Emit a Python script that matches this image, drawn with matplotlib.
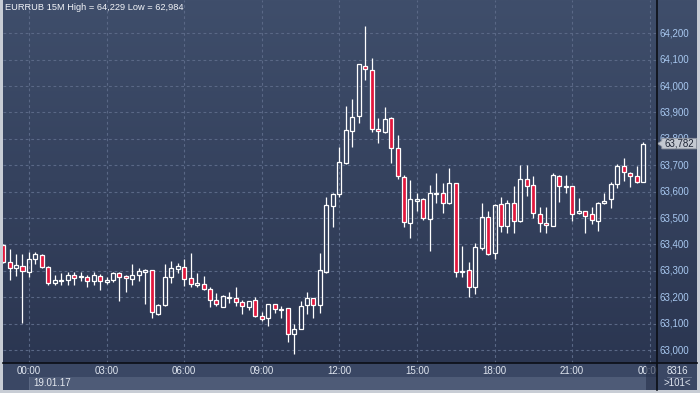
import matplotlib
matplotlib.use("Agg")
import matplotlib.pyplot as plt
import numpy as np
from matplotlib.colors import LinearSegmentedColormap
from matplotlib.patches import Rectangle, Polygon
from matplotlib.lines import Line2D

plt.rcParams['font.family'] = ['Liberation Sans', 'DejaVu Sans']

# EURRUB 15M candles, 18.01 23:00 .. 19.01 23:45
opens = [63398, 63334, 63311, 63320, 63296, 63345, 63359, 63315, 63254, 63263,
         63265, 63284, 63277, 63277, 63262, 63282, 63259, 63265, 63290, 63282,
         63269, 63284, 63296, 63303, 63138, 63170, 63277, 63306, 63315, 63273,
         63246, 63249, 63230, 63190, 63164, 63198, 63196, 63183, 63164, 63190,
         63129, 63120, 63174, 63150, 63158, 63060, 63078, 63169, 63196, 63169,
         63297, 63547, 63590, 63710, 63831, 63888, 64077, 64060, 63837, 63827,
         63878, 63764, 63654, 63480, 63566, 63571, 63498, 63591, 63594, 63556,
         63632, 63297, 63303, 63240, 63385, 63503, 63366, 63553, 63471, 63556,
         63489, 63647, 63625, 63514, 63480, 63471, 63659, 63619, 63621, 63518,
         63527, 63515, 63490, 63556, 63571, 63628, 63697, 63670, 63659, 63638]
highs = [63402, 63383, 63362, 63362, 63372, 63372, 63364, 63320, 63286, 63292,
         63297, 63294, 63294, 63286, 63294, 63288, 63277, 63297, 63297, 63284,
         63324, 63312, 63306, 63303, 63175, 63324, 63339, 63330, 63345, 63367,
         63292, 63280, 63238, 63217, 63208, 63221, 63240, 63190, 63186, 63202,
         63143, 63174, 63174, 63167, 63158, 63099, 63187, 63220, 63196, 63369,
         63581, 63594, 63770, 63925, 63951, 64083, 64229, 64105, 63878, 63920,
         63882, 63815, 63663, 63644, 63596, 63575, 63625, 63670, 63632, 63688,
         63632, 63394, 63335, 63404, 63558, 63528, 63553, 63579, 63568, 63621,
         63701, 63701, 63659, 63541, 63541, 63670, 63663, 63663, 63621, 63575,
         63527, 63543, 63562, 63596, 63635, 63705, 63729, 63676, 63698, 63787]
lows = [63330, 63264, 63279, 63104, 63277, 63326, 63311, 63245, 63246, 63246,
        63246, 63246, 63263, 63237, 63245, 63227, 63250, 63259, 63185, 63218,
        63246, 63263, 63173, 63122, 63131, 63166, 63254, 63292, 63241, 63239,
        63239, 63227, 63162, 63167, 63162, 63179, 63167, 63135, 63152, 63124,
        63111, 63092, 63139, 63120, 63029, 62984, 63078, 63135, 63120, 63139,
        63291, 63467, 63579, 63705, 63770, 63861, 64023, 63827, 63783, 63821,
        63710, 63647, 63467, 63423, 63528, 63493, 63376, 63558, 63518, 63553,
        63278, 63278, 63202, 63212, 63379, 63360, 63345, 63448, 63445, 63445,
        63486, 63584, 63501, 63448, 63445, 63471, 63562, 63594, 63490, 63515,
        63445, 63477, 63452, 63552, 63539, 63613, 63641, 63619, 63634, 63638]
closes = [63332, 63311, 63322, 63298, 63345, 63362, 63315, 63254, 63265, 63265,
          63283, 63272, 63281, 63263, 63286, 63262, 63267, 63290, 63278, 63274,
          63286, 63301, 63303, 63143, 63170, 63277, 63311, 63320, 63269, 63250,
          63253, 63230, 63190, 63173, 63205, 63202, 63181, 63167, 63186, 63130,
          63116, 63174, 63154, 63155, 63060, 63078, 63167, 63196, 63169, 63302,
          63549, 63591, 63711, 63834, 63884, 64083, 64064, 63836, 63830, 63874,
          63764, 63659, 63484, 63571, 63571, 63501, 63594, 63595, 63556, 63632,
          63294, 63301, 63238, 63389, 63503, 63363, 63549, 63471, 63556, 63490,
          63647, 63623, 63518, 63480, 63473, 63663, 63623, 63623, 63514, 63527,
          63509, 63494, 63556, 63566, 63629, 63697, 63673, 63659, 63638, 63782]

price_ticks = list(range(63000, 64201, 100))
time_ticks = [4, 16, 28, 40, 52, 64, 76, 88, 100]
time_labels = ["00:00", "03:00", "06:00", "09:00", "12:00", "15:00", "18:00", "21:00", "00:00"]
date_label = "19.01.17"
title = "EURRUB 15M High = 64,229 Low = 62,984"
last_price = closes[-1]
counter_top = "8316"
counter_bottom = ">101<"

W, H = 700, 393


def rect(x0, y0, x1, y1):
    return [x0 / W, 1 - y1 / H, (x1 - x0) / W, (y1 - y0) / H]


# pixel <-> data mapping of the reference
step = 6.466
x_first = 3.1
xlim = ((3 - x_first) / step, (657 - x_first) / step)
ylim = (64200 - (363 - 33.3) * 3.789, 64200 + 33.3 * 3.789)

grad = LinearSegmentedColormap.from_list("bg", ["#3f4e6b", "#2b3651"])
gimg = np.linspace(0, 1, 256).reshape(-1, 1)

fig = plt.figure(figsize=(7, 3.93), dpi=100, facecolor="#c8cdd5")

ax = fig.add_axes(rect(3, 0, 657, 363))
ax.imshow(gimg, cmap=grad, extent=(xlim[0], xlim[1], ylim[0], ylim[1]),
          aspect="auto", zorder=0)
ax.set_xlim(xlim)
ax.set_ylim(ylim)
ax.set_yticks(price_ticks)
ax.set_xticks(time_ticks)
ax.tick_params(length=0, labelleft=False, labelbottom=False)
ax.grid(color="#5a6886", ls=(0, (2.5, 2.5)), lw=0.8, zorder=1)
for s in ax.spines.values():
    s.set_visible(False)

o = np.array(opens, float)
c = np.array(closes, float)
h = np.array(highs, float)
l = np.array(lows, float)
x = np.arange(len(o))
top = np.maximum(o, c)
bot = np.minimum(o, c)
hgt = np.maximum(top - bot, 3)
up = c >= o

ax.vlines(x, top, h, color="white", lw=0.9, zorder=3)
ax.vlines(x, l, bot, color="white", lw=0.9, zorder=3)
ax.bar(x[up], hgt[up], bottom=bot[up], width=0.62, facecolor="none",
       edgecolor="white", lw=0.9, zorder=4)
ax.bar(x[~up], hgt[~up], bottom=bot[~up], width=0.62, facecolor="#e2173d",
       edgecolor="white", lw=0.9, zorder=4)

ax.text(0.003, 0.978, title, transform=ax.transAxes, color="#f2f4f8",
        fontsize=6.7, ha="left", va="center", zorder=6)

# right price scale
axr = fig.add_axes(rect(657, 0, 697, 363))
axr.imshow(gimg, cmap=grad, extent=(0, 1, ylim[0], ylim[1]), aspect="auto", zorder=0)
axr.set_xlim(0, 1)
axr.set_ylim(ylim)
axr.axis("off")
for p in price_ticks:
    axr.text(0.05, p, f"{p:,}", color="#a8c8f0", fontsize=7, ha="left",
             va="center", zorder=2)
hh = 20
axr.add_patch(Polygon([(0.12, last_price + hh), (0.99, last_price + hh),
                       (0.99, last_price - hh), (0.12, last_price - hh),
                       (0.12, last_price - 11), (0.01, last_price),
                       (0.12, last_price + 11)],
                      closed=True, facecolor="#c4c9d1", edgecolor="#8d939e",
                      lw=0.6, zorder=3))
axr.text(0.55, last_price, f"{last_price:,}", color="#1d2434", fontsize=7,
         ha="center", va="center", zorder=4)

# time scale
axb = fig.add_axes(rect(3, 363, 657, 390))
axb.set_xlim(xlim)
axb.set_ylim(27, 0)
axb.axis("off")
axb.add_patch(Rectangle((xlim[0], 0), xlim[1] - xlim[0], 27, facecolor="#3a4764",
                        edgecolor="none", zorder=0))
axb.add_patch(Rectangle((time_ticks[0], 14), xlim[1] - time_ticks[0], 13,
                        facecolor="#4e5b77", edgecolor="none", zorder=1))
axb.axvline(time_ticks[0], ymin=0, ymax=13 / 27, color="#5e6b86", lw=0.6, zorder=2)
for t, lab in zip(time_ticks, time_labels):
    axb.text(t, 7.5, lab, color="#dfe5ef", fontsize=7, ha="center", va="center",
             clip_on=True, zorder=3)
axb.text(time_ticks[0] + 0.6, 20.3, date_label, color="#e4e8ef", fontsize=7,
         ha="left", va="center", zorder=3)
axb.add_patch(Rectangle((99.4, 0), xlim[1] - 99.4, 27, facecolor="#27314a",
                        alpha=0.6, edgecolor="none", zorder=4))

# corner box
axc = fig.add_axes(rect(657, 363, 697, 390))
axc.set_xlim(0, 1)
axc.set_ylim(27, 0)
axc.axis("off")
axc.add_patch(Rectangle((0, 0), 1, 27, facecolor="#3a4764", edgecolor="none"))
axc.plot([0.25, 0.85], [13.8, 13.8], color="#6a7690", lw=0.6)
axc.text(0.52, 7.5, counter_top, color="#dfe5ef", fontsize=7, ha="center", va="center")
axc.text(0.5, 20.3, counter_bottom, color="#dfe5ef", fontsize=7, ha="center", va="center")

# black separators
fig.add_artist(Line2D([657.3 / W, 657.3 / W], [1 - 390 / H, 1], color="#0b0e15", lw=1.2))
fig.add_artist(Line2D([3 / W, 697 / W], [1 - 363.3 / H, 1 - 363.3 / H], color="#0b0e15", lw=1.2))

fig.savefig("out.png", dpi=100, facecolor=fig.get_facecolor())
